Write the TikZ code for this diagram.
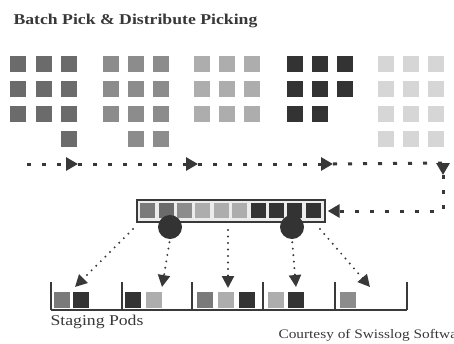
\documentclass[tikz,border=0pt]{standalone}
\usepackage{fontspec}
\setmainfont{Liberation Serif}
\newfontfamily\widefont[FakeStretch=1.18]{Liberation Serif}
\usetikzlibrary{arrows.meta,positioning}
\definecolor{toneA}{gray}{0.42}
\definecolor{toneB}{gray}{0.55}
\definecolor{toneC}{gray}{0.68}
\definecolor{toneD}{gray}{0.2}
\definecolor{toneE}{gray}{0.84}
\definecolor{toneM}{gray}{0.48}
\definecolor{ink}{gray}{0.22}

\begin{document}
\begin{tikzpicture}[x=1pt,y=-1pt,
    tote/.style={rectangle,inner sep=0pt,minimum size=16pt,anchor=north west},
    flow/.style={ink,line width=3pt,dash pattern=on 4pt off 11pt,-{Triangle[length=12pt,width=13pt]}},
    drop/.style={ink,line width=2.2pt,line cap=round,dash pattern=on 0pt off 6.5pt,-{Triangle[length=12pt,width=12pt]}},
    pod/.style={gray!45!black,line width=1.4pt}]
  \useasboundingbox (0,0) rectangle (454,343);
  \clip (0,0) rectangle (454,343);

  \node [anchor=base west,font=\widefont\bfseries\fontsize{15}{18}\selectfont,text=ink] (title) at (10,24) {Batch Pick \& Distribute Picking};

  % order totes
  \foreach \c/\r in {1/1,2/1,3/1,1/2,2/2,3/2,1/3,2/3,3/3,3/4}
    \node [tote,fill=toneA] (a\c\r) at ({10+25.5*(\c-1)},{56+25*(\r-1)}) {};
  \foreach \c/\r in {1/1,2/1,3/1,1/2,2/2,3/2,1/3,2/3,3/3,2/4,3/4}
    \node [tote,fill=toneB] (b\c\r) at ({103+25*(\c-1)},{56+25*(\r-1)}) {};
  \foreach \c/\r in {1/1,2/1,3/1,1/2,2/2,3/2,1/3,2/3,3/3}
    \node [tote,fill=toneC] (c\c\r) at ({194+25*(\c-1)},{56+25*(\r-1)}) {};
  \foreach \c/\r in {1/1,2/1,3/1,1/2,2/2,3/2,1/3,2/3}
    \node [tote,fill=toneD] (d\c\r) at ({287+25*(\c-1)},{56+25*(\r-1)}) {};
  \foreach \c/\r in {1/1,2/1,3/1,1/2,2/2,3/2,1/3,2/3,3/3,1/4,2/4,3/4}
    \node [tote,fill=toneE] (e\c\r) at ({378+25*(\c-1)},{56+25*(\r-1)}) {};

  % batch cart
  \node [rectangle,draw=gray!45!black,fill=gray!15,line width=1.3pt,minimum width=188pt,minimum height=22pt,inner sep=0pt] (cart) at (231,211) {};
  \foreach \i/\t in {1/toneM,2/toneA,3/toneB,4/toneC,5/toneC,6/toneC,7/toneD,8/toneD,9/toneD,10/toneD}
    \node [tote,minimum size=15pt,fill=\t] (k\i) at ({140+18.4*(\i-1)},203) {};
  \node [circle,fill=toneD,minimum size=24pt,inner sep=0pt] (w1) at (170,227) {};
  \node [circle,fill=toneD,minimum size=24pt,inner sep=0pt] (w2) at (292,227) {};

  % pick path
  \coordinate (f0) at (27,164);
  \coordinate (f1) at (78,164);
  \coordinate (f2) at (198,164);
  \coordinate (f3) at (333,164);
  \coordinate (f4) at (443,163);
  \coordinate (f5) at (443,175);
  \coordinate (f6) at (443,211);
  \draw [flow] (f0) -- (f1);
  \draw [flow] (f1) -- (f2);
  \draw [flow] (f2) -- (f3);
  \draw [flow] (f3) -- (f4) -- (f5);
  \draw [flow,shorten >=2pt] (f5) -- (f6) -- (cart.east);

  % staging pods
  \coordinate (p0) at (51,310);
  \coordinate (p1) at (122,310);
  \coordinate (p2) at (192,310);
  \coordinate (p3) at (263,310);
  \coordinate (p4) at (335,310);
  \coordinate (p5) at (407,310);
  \draw [pod] (p0) -- (p5);
  \foreach \i in {0,...,5}
    \draw [pod] (p\i) -- ++(0,-28);
  \foreach \x/\t [count=\n] in {54/toneM,73/toneD,125/toneD,146/toneC,197/toneM,218/toneC,239/toneD,268/toneC,288/toneD,340/toneB}
    \node [tote,fill=\t] (s\n) at (\x,292) {};

  % distribution
  \coordinate (u1) at (133,229);
  \coordinate (u3) at (228,230);
  \coordinate (u5) at (320,229);
  \coordinate (t1) at (75,287);
  \coordinate (t2) at (162,287);
  \coordinate (t3) at (228,288);
  \coordinate (t4) at (296,287);
  \coordinate (t5) at (370,287);
  \draw [drop] (u1) -- (t1);
  \draw [drop,shorten <=3pt] (w1.south) -- (t2);
  \draw [drop] (u3) -- (t3);
  \draw [drop,shorten <=3pt] (w2.south) -- (t4);
  \draw [drop] (u5) -- (t5);

  \node [anchor=base west,font=\widefont\fontsize{15}{18}\selectfont,text=ink] (staging) at (47,325) {Staging Pods};
  \node [anchor=base west,font=\widefont\fontsize{13}{16}\selectfont,text=ink] (credit) at (275,338) {Courtesy of Swisslog Software};
\end{tikzpicture}
\end{document}
